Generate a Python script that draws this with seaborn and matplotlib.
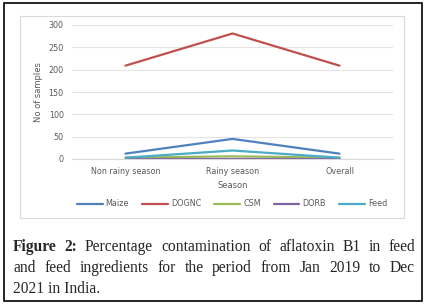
import numpy as np
import pandas as pd
import seaborn as sns
import matplotlib.pyplot as plt
from matplotlib.patches import Rectangle

seasons = ['Non rainy season', 'Rainy season', 'Overall']
maize = [12, 45, 12]
dognc = [209, 281, 209]
csm = [3, 6, 3]
dorb = [1, 1, 1]
feed = [3, 19, 3]

names = ['Maize', 'DOGNC', 'CSM', 'DORB', 'Feed']
colors = ['#4F81BD', '#C0504D', '#9BBB59', '#8064A2', '#4BACC6']

df = pd.DataFrame({'Season': seasons, 'Maize': maize, 'DOGNC': dognc,
                   'CSM': csm, 'DORB': dorb, 'Feed': feed})
long = df.melt(id_vars='Season', var_name='Sample', value_name='No of samples')

sns.set_style('white')
fig = plt.figure(figsize=(4.28, 3.08), dpi=100)
ax = fig.add_axes([72/428, 1 - 159/308, (393-72)/428, (159-25)/308])

sns.lineplot(data=long, x='Season', y='No of samples', hue='Sample',
             hue_order=names, palette=colors, sort=False, lw=1.6, ax=ax,
             legend=False)

ax.set_xlim(-0.5, 2.5)
ax.set_ylim(0, 300)
ax.set_yticks(range(0, 301, 50))
ax.grid(axis='y', color='#e4e4e4', lw=0.8)
ax.set_axisbelow(True)
for s in ['top', 'right', 'left']:
    ax.spines[s].set_visible(False)
ax.spines['bottom'].set_color('#d9d9d9')
ax.tick_params(length=0, labelsize=5.8, labelcolor='#595959', pad=6)
ax.set_xlabel('Season', fontsize=6, color='#595959', labelpad=3)
ax.set_ylabel('No of samples', fontsize=6, color='#595959', labelpad=4)

handles = [plt.Line2D([], [], color=c, lw=1.6) for c in colors]
fig.legend(handles, names, loc='center', bbox_to_anchor=(232/428, 1 - 204/308),
           ncol=5, frameon=False, fontsize=5.8, handlelength=3.2,
           columnspacing=1.6, handletextpad=0.4, labelcolor='#595959')

# inner chart frame and outer border
fig.add_artist(Rectangle((20/428, 1 - 218/308), (404-20)/428, (218-16)/308,
                         transform=fig.transFigure, fill=False,
                         ec='#d9d9d9', lw=0.8))
fig.add_artist(Rectangle((4/428, 1 - 301/308), (422-4)/428, (301-3)/308,
                         transform=fig.transFigure, fill=False,
                         ec='black', lw=1.2))

# caption, justified line by line
serif = ['Liberation Serif', 'DejaVu Serif']
fs = 11.2
left, right = 13, 415
lines = [
    [('Figure', 'bold'), ('2:', 'bold'), ('Percentage', 'normal'),
     ('contamination', 'normal'), ('of', 'normal'), ('aflatoxin', 'normal'),
     ('B1', 'normal'), ('in', 'normal'), ('feed', 'normal')],
    [(w, 'normal') for w in 'and feed ingredients for the period from Jan 2019 to Dec'.split()],
]
rend = fig.canvas.get_renderer()
ys = [247, 268]
for words, y in zip(lines, ys):
    texts = [fig.text(0, 1 - y/308, w, fontsize=fs, fontweight=wt,
                      family=serif, va='center') for w, wt in words]
    widths = [t.get_window_extent(rend).width for t in texts]
    gap = (right - left - sum(widths)) / (len(texts) - 1)
    x = left
    for t, w in zip(texts, widths):
        t.set_x(x / 428)
        x += w + gap
fig.text(left/428, 1 - 289/308, '2021 in India.', fontsize=fs,
         family=serif, va='center')

plt.savefig('out.png', dpi=100)
